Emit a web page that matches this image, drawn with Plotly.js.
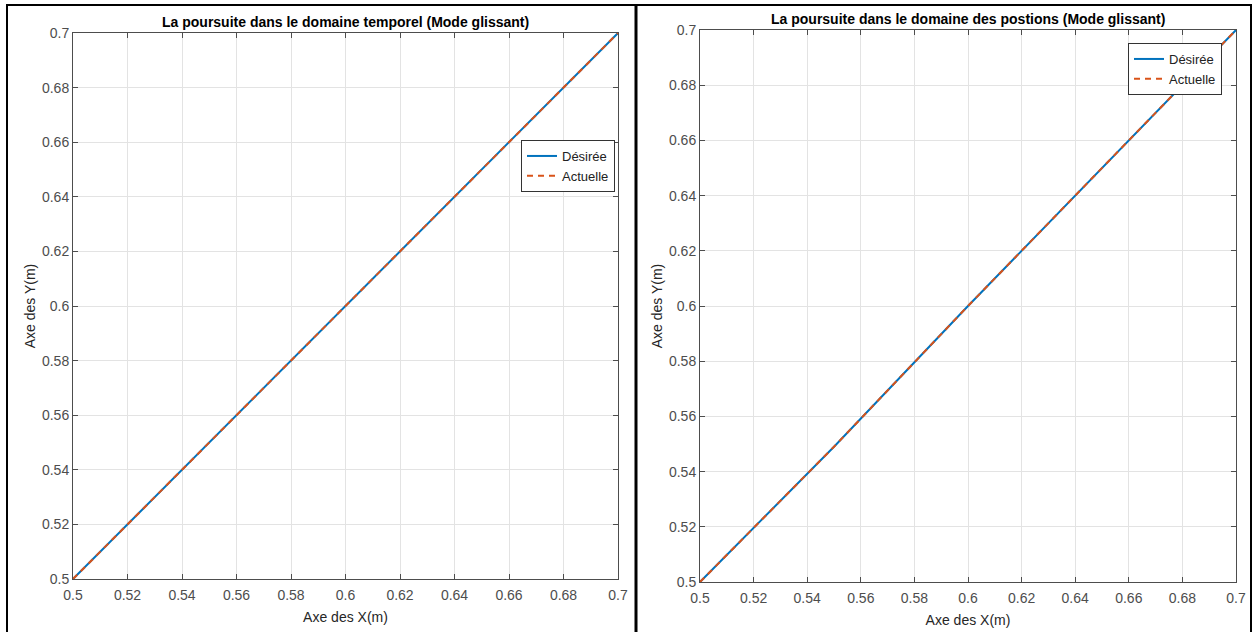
<!DOCTYPE html>
<html>
<head>
<meta charset="utf-8">
<script src="https://cdn.plot.ly/plotly-3.0.1.min.js"></script>
<style>html,body{margin:0;padding:0;background:#fff;} #chart{width:1253px;height:632px;}</style>
</head>
<body>
<div id="chart"></div>
<script>
// Data
const xTemporel = [0.5, 0.55, 0.6, 0.65, 0.7];
const yTemporelDesiree = [0.5, 0.55, 0.6, 0.65, 0.7];
const yTemporelActuelle = [0.5, 0.55, 0.6, 0.65, 0.7];
const xPositions = [0.5, 0.55, 0.6, 0.65, 0.7];
const yPositionsDesiree = [0.5, 0.549, 0.6, 0.65, 0.7];
const yPositionsActuelle = [0.5, 0.549, 0.6, 0.65, 0.7];
const tickVals = [0.5, 0.52, 0.54, 0.56, 0.58, 0.6, 0.62, 0.64, 0.66, 0.68, 0.7];
const tickText = ['0.5', '0.52', '0.54', '0.56', '0.58', '0.6', '0.62', '0.64', '0.66', '0.68', '0.7'];
const titles = ['La poursuite dans le domaine temporel (Mode glissant)', 'La poursuite dans le domaine des postions (Mode glissant)'];
const seriesNames = ['Désirée', 'Actuelle'];

const W = 1253, H = 632;
const blue = '#0072BD', orange = '#D95319';
const font = 'Liberation Sans, Arial, sans-serif';

const traces = [
  {x: xTemporel, y: yTemporelDesiree, name: seriesNames[0], mode: 'lines', line: {color: blue, width: 2}, xaxis: 'x', yaxis: 'y', showlegend: true, legend: 'legend'},
  {x: xTemporel, y: yTemporelActuelle, name: seriesNames[1], mode: 'lines', line: {color: orange, width: 2, dash: '6px,5px'}, xaxis: 'x', yaxis: 'y', showlegend: true, legend: 'legend'},
  {x: xPositions, y: yPositionsDesiree, name: seriesNames[0], mode: 'lines', line: {color: blue, width: 2}, xaxis: 'x2', yaxis: 'y2', showlegend: true, legend: 'legend2'},
  {x: xPositions, y: yPositionsActuelle, name: seriesNames[1], mode: 'lines', line: {color: orange, width: 2, dash: '6px,5px'}, xaxis: 'x2', yaxis: 'y2', showlegend: true, legend: 'legend2'}
];

function ax(domain, anchor, titleText, isY) {
  return {
    domain: domain, anchor: anchor, range: [0.5, 0.7],
    tickvals: tickVals, ticktext: tickText,
    showgrid: true, gridcolor: '#e3e3e3', gridwidth: 1,
    zeroline: false, showline: true, linecolor: '#4d4d4d', linewidth: 1, mirror: 'ticks',
    ticks: 'inside', ticklen: 5, tickcolor: '#4d4d4d',
    ticklabelstandoff: isY ? 0 : 3,
    tickfont: {family: font, size: 14, color: '#4d4d4d'},
    automargin: false,
    title: {text: titleText, font: {family: font, size: 14, color: '#262626'}, standoff: isY ? 3 : 10}
  };
}

const xd1 = [73 / W, 618 / W], yd1 = [(H - 579) / H, (H - 33) / H];
const xd2 = [700 / W, 1236 / W], yd2 = [(H - 582) / H, (H - 30) / H];

const legendStyle = {xanchor: 'right', yanchor: 'top', bgcolor: '#fff', bordercolor: '#333', borderwidth: 1,
  font: {family: font, size: 13, color: '#222'}, tracegroupgap: 0, itemwidth: 30};

const layout = {
  width: W, height: H,
  margin: {l: 0, r: 0, t: 0, b: 0},
  paper_bgcolor: '#fff', plot_bgcolor: '#fff',
  xaxis: ax(xd1, 'y', 'Axe des X(m)', false),
  yaxis: ax(yd1, 'x', 'Axe des Y(m)', true),
  xaxis2: ax(xd2, 'y2', 'Axe des X(m)', false),
  yaxis2: ax(yd2, 'x2', 'Axe des Y(m)', true),
  legend: Object.assign({x: 615 / W, y: (H - 140) / H}, legendStyle),
  legend2: Object.assign({x: 1222 / W, y: (H - 43) / H}, legendStyle),
  annotations: [
    {text: '<b>' + titles[0] + '</b>', xref: 'paper', yref: 'paper', x: (xd1[0] + xd1[1]) / 2, y: (H - 22) / H, xanchor: 'center', yanchor: 'middle', showarrow: false, font: {family: font, size: 14, color: '#000'}},
    {text: '<b>' + titles[1] + '</b>', xref: 'paper', yref: 'paper', x: (xd2[0] + xd2[1]) / 2, y: (H - 19) / H, xanchor: 'center', yanchor: 'middle', showarrow: false, font: {family: font, size: 14, color: '#000'}}
  ],
  shapes: [
    {type: 'rect', xref: 'paper', yref: 'paper', x0: 7 / W, x1: 1251 / W, y0: -0.01, y1: (H - 5) / H, line: {color: '#000', width: 2}},
    {type: 'line', xref: 'paper', yref: 'paper', x0: 636 / W, x1: 636 / W, y0: -0.01, y1: (H - 5) / H, line: {color: '#000', width: 3}}
  ]
};

Plotly.newPlot('chart', traces, layout, {displayModeBar: false, staticPlot: true});
</script>
</body>
</html>
